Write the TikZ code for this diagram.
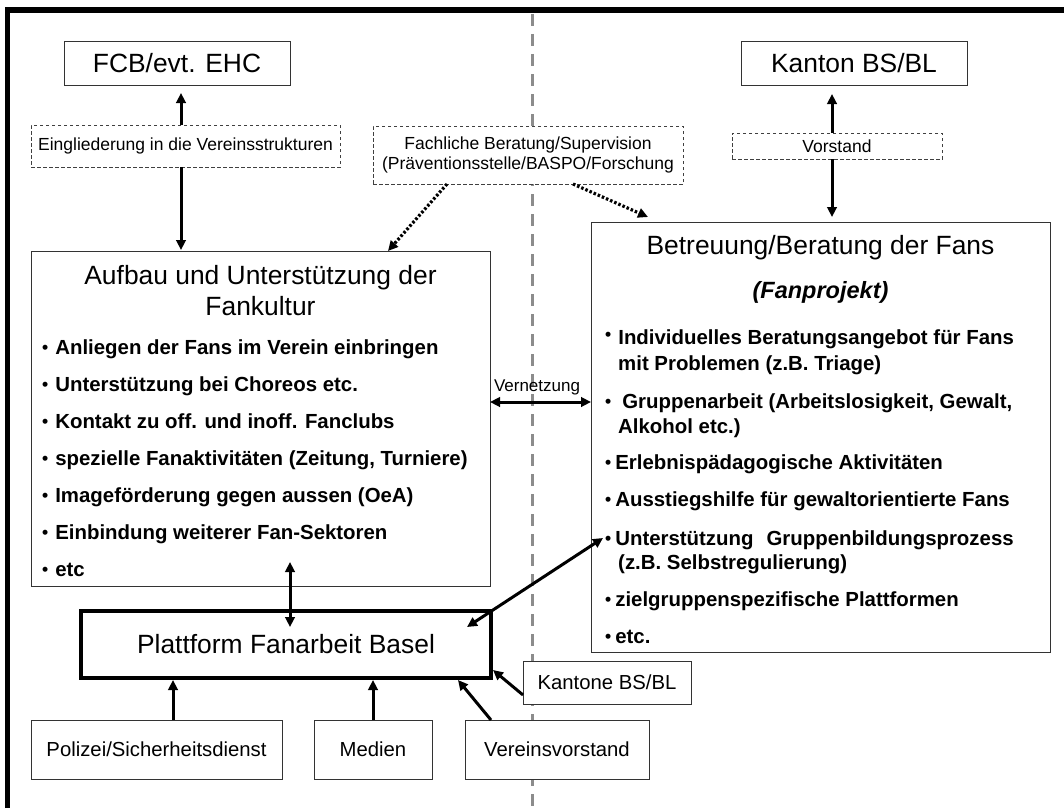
\documentclass[tikz,border=0pt]{standalone}
\usepackage{fontspec}
\setmainfont{Liberation Sans}
\usetikzlibrary{arrows.meta,calc}

% small list bullet
\newcommand\dotbul{\raisebox{0.8pt}{\fontsize{17.5}{17.5}\selectfont •}}

\begin{document}
\begin{tikzpicture}[x=1pt,y=-1pt,
  box/.style={draw=black!80, line width=1pt, inner sep=0pt, outer sep=0pt,
    anchor=north west, align=center, fill=white},
  dbox/.style={box, draw=black!75, line width=0.9pt, dash pattern=on 3.5pt off 2.5pt},
  big/.style={font=\fontsize{26.4}{30}\selectfont},
  small/.style={font=\fontsize{17.5}{20}\selectfont},
  mid/.style={font=\fontsize{20.3}{24}\selectfont},
  ttl/.style={anchor=base, inner sep=0pt, font=\fontsize{26.4}{30}\selectfont},
  item/.style={anchor=base west, inner sep=0pt, font=\fontsize{20.4}{24}\selectfont\bfseries},
  tipA/.tip={Triangle[length=10pt,width=9.5pt]},
  arr/.style={line width=3pt, -tipA},
  arrs/.style={line width=3pt, tipA-tipA},
  dotarr/.style={line width=3.2pt, dash pattern=on 2.5pt off 2pt, -tipA},
]
\useasboundingbox (0,0) rectangle (1064,808);

% frame and column separator
\draw[line width=5.5pt, line join=miter] (7.5,808) -- (7.5,10) -- (1064,10);
\draw[black!45, line width=3pt, dash pattern=on 12pt off 8pt] (532,14) -- (532,808);

% boxes
\node[box, big, minimum width=226pt, minimum height=43pt] (fcb) at (64,42) {FCB/evt. EHC};
\node[box, big, minimum width=226pt, minimum height=43pt] (kanton) at (741,42) {Kanton BS/BL};
\node[dbox, small, minimum width=309pt, minimum height=42pt] (eing) at (31,125) {Eingliederung in die Vereinsstrukturen};
\node[dbox, small, minimum width=310pt, minimum height=58pt] (fach) at (373,126)
  {Fachliche Beratung/Supervision\\(Präventionsstelle/BASPO/Forschung};
\node[dbox, small, minimum width=210pt, minimum height=26pt] (vorst) at (732,133) {Vorstand};
\node[box, minimum width=459pt, minimum height=335pt] (left) at (31,251) {};
\node[box, minimum width=459pt, minimum height=430pt] (right) at (591,222) {};
\node[box, big, draw=black, line width=4.5pt, minimum width=410pt, minimum height=67pt] (plat) at (81,611) {Plattform Fanarbeit Basel};
\node[box, mid, minimum width=168pt, minimum height=43pt] (kantone) at (523,661) {Kantone BS/BL};
\node[box, mid, minimum width=251pt, minimum height=59pt] (pol) at (31,720) {Polizei/Sicherheitsdienst};
\node[box, mid, minimum width=118pt, minimum height=59pt] (med) at (314,720) {Medien};
\node[box, mid, minimum width=184pt, minimum height=59pt] (verv) at (465,720) {Vereinsvorstand};

% left box contents
\node[ttl] (lt1) at (260.5,284.5) {Aufbau und Unterstützung der};
\node[ttl] (lt2) at (260.5,315) {Fankultur};
\node[item] (l1) at (42,354) {\dotbul\kern7pt Anliegen der Fans im Verein einbringen};
\node[item] (l2) at (42,391) {\dotbul\kern7pt Unterstützung bei Choreos etc.};
\node[item] (l3) at (42,428) {\dotbul\kern7pt Kontakt zu off. und inoff. Fanclubs};
\node[item] (l4) at (42,465) {\dotbul\kern7pt spezielle Fanaktivitäten (Zeitung, Turniere)};
\node[item] (l5) at (42,502) {\dotbul\kern7pt Imageförderung gegen aussen (OeA)};
\node[item] (l6) at (42,539) {\dotbul\kern7pt Einbindung weiterer Fan-Sektoren};
\node[item] (l7) at (42,576.5) {\dotbul\kern7pt etc};

% right box contents
\node[ttl] (rt1) at (820.5,254.5) {Betreuung/Beratung der Fans};
\node[anchor=base, inner sep=0pt, font=\fontsize{23.5}{28}\selectfont\bfseries\itshape] (rt2) at (820.5,298.5) {(Fanprojekt)};
\node[item] (r1) at (605,344) {\raisebox{3pt}{\dotbul}\kern7pt Individuelles Beratungsangebot für Fans};
\node[item] (r1b) at (618,370) {mit Problemen (z.B. Triage)};
\node[item] (r2) at (605,408) {\dotbul\kern11pt Gruppenarbeit (Arbeitslosigkeit, Gewalt,};
\node[item] (r2b) at (618,433) {Alkohol etc.)};
\node[item] (r3) at (605,469) {\dotbul\kern4pt Erlebnispädagogische Aktivitäten};
\node[item] (r4) at (605,506) {\dotbul\kern4pt Ausstiegshilfe für gewaltorientierte Fans};
\node[item] (r5) at (605,545) {\dotbul\kern4pt Unterstützung\hspace{13pt}Gruppenbildungsprozess};
\node[item] (r5b) at (618,569) {(z.B. Selbstregulierung)};
\node[item] (r6) at (605,606) {\dotbul\kern4pt zielgruppenspezifische Plattformen};
\node[item] (r7) at (605,643) {\dotbul\kern4pt etc.};

% connector axes and free ends
\coordinate (xa) at (181,0);
\coordinate (xb) at (832,0);
\coordinate (fa) at (447,0);
\coordinate (fb) at (388,0);
\coordinate (fc) at (573,0);
\coordinate (fd) at (648,217);
\coordinate (vn) at (0,402);
\coordinate (lp1) at (290,562);
\coordinate (lp2) at (290,627);
\coordinate (dg1) at (467,627);
\coordinate (dg2) at (603,538);
\coordinate (xp) at (173,0);
\coordinate (xm) at (373,0);
\coordinate (vv1) at (491,0);
\coordinate (vv2) at (458,680);
\coordinate (kk1) at (0,695);
\coordinate (kk2) at (493,670);

% connectors
\draw[arr, shorten >=8pt] (eing.north -| xa) -- (fcb.south -| xa);
\draw[arr, shorten >=1pt] (eing.south -| xa) -- (left.north -| xa);
\draw[arr, shorten >=9pt] (vorst.north -| xb) -- (kanton.south -| xb);
\draw[arr, shorten >=5pt] (vorst.south -| xb) -- (right.north -| xb);
\draw[dotarr] (fach.south -| fa) -- (left.north -| fb);
\draw[dotarr] (fach.south -| fc) -- (fd);
\draw[arrs] (left.east |- vn) -- (right.west |- vn);
\node[anchor=base, inner sep=0pt, font=\fontsize{17}{20}\selectfont] (vlabel) at (537,391) {Vernetzung};
\draw[arrs] (lp1) -- (lp2);
\draw[arrs] (dg1) -- (dg2);
\draw[arr, shorten >=2pt] (pol.north -| xp) -- (plat.south -| xp);
\draw[arr, shorten >=2pt] (med.north -| xm) -- (plat.south -| xm);
\draw[arr] (verv.north -| vv1) -- (vv2);
\draw[arr] (kantone.west |- kk1) -- (kk2);
\end{tikzpicture}
\end{document}
